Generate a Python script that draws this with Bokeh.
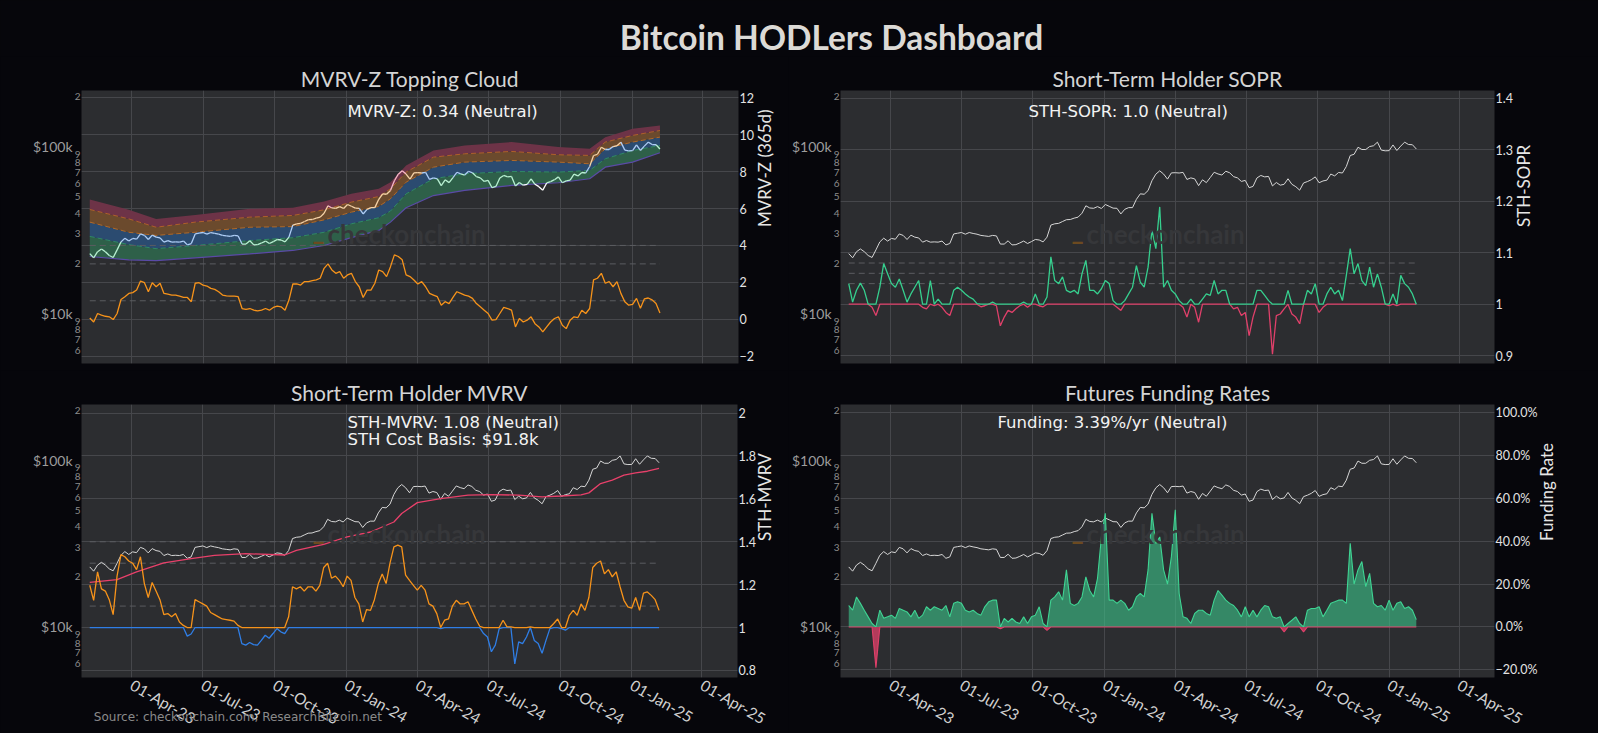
import math
import numpy as np
import pandas as pd
from bokeh.plotting import figure
from bokeh.layouts import column, row
from bokeh.models import (Range1d, LogScale, LogAxis, FixedTicker, CustomJSTickFormatter,
                          DatetimeTickFormatter, Label)
from bokeh.embed import file_html
from bokeh.resources import INLINE

# ---------------------------------------------------------------- data
START_DATE = "2023-02-06"   # series sampled every 5 days
STEP = "5D"

price_k = [22.9, 21.6, 23.5, 24.4, 23.5, 22.3, 21.7, 24.1, 26.9, 28.3, 27.2, 28.2, 27.9, 30.0, 29.4,
           27.8, 29.5, 28.7, 28.4, 26.8, 27.4, 26.8, 26.9, 26.8, 27.2, 25.8, 26.3, 30.0, 30.3, 30.6,
           29.9, 30.6, 30.2, 29.9, 29.4, 29.2, 29.0, 29.4, 29.2, 26.1, 26.1, 27.3, 25.8, 25.9, 26.5,
           27.2, 26.3, 27.0, 27.8, 27.6, 26.9, 28.7, 33.9, 34.5, 34.7, 35.6, 36.5, 36.6, 37.3, 37.8,
           39.9, 44.2, 42.9, 42.7, 43.7, 42.6, 45.0, 43.9, 42.8, 42.7, 39.5, 42.1, 43.1, 43.1, 48.3,
           52.1, 51.8, 54.5, 62.4, 68.3, 71.5, 68.4, 63.8, 69.5, 69.7, 69.4, 70.0, 63.5, 64.9, 64.0,
           58.3, 63.2, 60.8, 65.2, 70.1, 68.5, 67.5, 71.1, 69.6, 66.0, 64.9, 61.8, 62.7, 56.7, 57.7,
           64.8, 67.1, 65.8, 66.2, 58.1, 60.9, 58.7, 59.4, 64.1, 59.4, 57.5, 54.8, 60.5, 61.7, 63.3,
           65.8, 60.7, 62.2, 62.9, 68.4, 66.7, 69.9, 69.4, 75.9, 88.3, 89.8, 98.9, 95.9, 95.9, 99.9,
           101.0, 106.1, 95.1, 94.2, 94.4, 102.1, 94.6, 100.5, 106.1, 102.7, 102.4, 96.6]

mvrv_z = [0.07, -0.15, 0.31, 0.22, 0.16, 0.13, -0.02, 0.31, 1.07, 1.22, 1.40, 1.44, 1.58, 2.07, 1.98,
          1.49, 1.98, 1.76, 1.95, 1.40, 1.36, 1.31, 1.31, 1.25, 1.18, 1.18, 0.95, 1.95, 1.98, 1.85,
          1.80, 1.67, 1.62, 1.49, 1.31, 1.27, 1.25, 1.25, 1.22, 0.58, 0.53, 0.58, 0.49, 0.45, 0.49,
          0.58, 0.49, 0.64, 0.71, 0.67, 0.49, 1.04, 1.91, 1.91, 1.85, 2.04, 2.04, 2.09, 2.13, 2.22,
          2.76, 3.00, 2.67, 2.49, 2.58, 2.22, 2.40, 2.49, 2.04, 1.76, 1.18, 1.58, 1.58, 1.95, 2.67,
          2.58, 2.31, 2.85, 3.49, 3.40, 3.22, 2.40, 2.31, 2.13, 1.91, 2.04, 1.76, 1.40, 1.31, 1.22,
          0.76, 0.95, 0.85, 1.18, 1.49, 1.40, 1.31, 1.25, 1.13, 0.85, 0.67, 0.49, 0.31, -0.05, -0.02,
          0.31, 0.64, 0.58, 0.49, -0.42, 0.04, -0.15, -0.05, 0.13, -0.24, -0.42, -0.69, -0.42, -0.15, 0.04,
          0.13, -0.33, -0.51, -0.05, 0.13, 0.09, 0.49, 0.31, 0.58, 2.13, 2.22, 2.49, 1.95, 2.04, 1.76,
          2.04, 1.40, 0.95, 0.76, 0.80, 1.13, 0.60, 1.10, 1.15, 1.05, 0.85, 0.34]

sth_sopr = [1.040, 1.004, 1.027, 1.041, 1.027, 1.000, 0.994, 0.978, 1.033, 1.079, 1.059, 1.040, 1.033,
            1.049, 1.027, 1.004, 1.020, 1.033, 1.046, 0.994, 0.991, 1.046, 0.997, 1.010, 0.994, 0.984,
            0.978, 1.027, 1.033, 1.027, 1.020, 1.014, 1.010, 1.001, 0.995, 0.997, 1.000, 1.004, 0.997,
            0.958, 0.975, 0.988, 0.984, 0.991, 0.997, 1.004, 0.994, 1.000, 1.020, 0.997, 0.995, 1.014,
            1.092, 1.046, 1.040, 1.053, 1.027, 1.023, 1.027, 1.020, 1.059, 1.085, 1.027, 1.027, 1.020,
            1.030, 1.046, 1.040, 1.007, 0.994, 0.988, 1.007, 1.020, 1.033, 1.075, 1.043, 1.033, 1.072,
            1.144, 1.108, 1.189, 1.033, 1.046, 1.027, 1.020, 1.007, 0.994, 0.975, 1.010, 0.994, 0.965,
            1.010, 1.020, 1.017, 1.046, 1.020, 1.027, 1.027, 1.000, 0.991, 0.994, 0.978, 0.984, 0.939,
            0.975, 1.027, 1.027, 1.017, 1.007, 0.903, 0.978, 0.981, 0.991, 1.027, 0.981, 0.975, 0.962,
            1.000, 1.027, 1.020, 1.040, 0.984, 0.994, 1.020, 1.033, 1.020, 1.027, 1.007, 1.056, 1.108,
            1.059, 1.079, 1.046, 1.036, 1.072, 1.033, 1.059, 1.033, 1.000, 0.997, 1.020, 0.997, 1.056,
            1.040, 1.033, 1.020, 1.000]

sth_mvrv = [1.197, 1.127, 1.26, 1.18, 1.17, 1.13, 1.06, 1.24, 1.34, 1.33, 1.31, 1.30, 1.27, 1.33, 1.205,
            1.14, 1.21, 1.17, 1.13, 1.06, 1.065, 1.05, 1.065, 1.026, 1.01, 0.96, 0.97, 1.13, 1.12, 1.11,
            1.10, 1.07, 1.06, 1.05, 1.04, 1.037, 1.034, 1.03, 1.01, 0.925, 0.918, 0.93, 0.92, 0.918, 0.94,
            0.964, 0.95, 0.972, 0.995, 0.98, 0.972, 1.05, 1.19, 1.18, 1.19, 1.17, 1.19, 1.19, 1.17, 1.197,
            1.28, 1.30, 1.23, 1.24, 1.22, 1.19, 1.24, 1.22, 1.14, 1.11, 1.026, 1.084, 1.08, 1.13, 1.205,
            1.25, 1.205, 1.30, 1.376, 1.384, 1.376, 1.244, 1.22, 1.197, 1.174, 1.197, 1.174, 1.11, 1.10,
            1.065, 0.995, 1.034, 1.04, 1.10, 1.127, 1.11, 1.11, 1.12, 1.08, 1.04, 1.006, 0.972, 0.956,
            0.887, 0.918, 0.995, 1.034, 1.003, 1.003, 0.83, 0.933, 0.925, 0.956, 1.003, 0.94, 0.925, 0.88,
            0.94, 0.995, 1.019, 1.04, 0.995, 0.988, 1.057, 1.08, 1.057, 1.11, 1.08, 1.14, 1.28, 1.30,
            1.31, 1.25, 1.27, 1.236, 1.26, 1.19, 1.127, 1.096, 1.09, 1.14, 1.08, 1.16, 1.166, 1.15, 1.13,
            1.08]

funding = [0.100, 0.078, 0.140, 0.110, 0.078, 0.047, 0.016, -0.190, 0.078, 0.040, 0.047, 0.055, 0.040,
           0.086, 0.078, 0.070, 0.047, 0.078, 0.040, 0.055, 0.094, 0.078, 0.094, 0.086, 0.078, 0.100,
           0.047, 0.110, 0.117, 0.110, 0.078, 0.070, 0.078, 0.063, 0.055, 0.094, 0.117, 0.125, 0.125,
           -0.008, 0.040, 0.023, 0.040, 0.023, 0.016, 0.047, 0.016, 0.047, 0.055, 0.094, 0.016, -0.016,
           0.125, 0.140, 0.164, 0.125, 0.266, 0.110, 0.100, 0.110, 0.140, 0.234, 0.170, 0.140, 0.227,
           0.420, 0.530, 0.125, 0.125, 0.110, 0.125, 0.110, 0.078, 0.094, 0.140, 0.156, 0.140, 0.266,
           0.530, 0.390, 0.420, 0.266, 0.200, 0.328, 0.547, 0.156, 0.047, 0.040, 0.016, 0.063, 0.078,
           0.078, 0.063, 0.055, 0.125, 0.170, 0.148, 0.125, 0.110, 0.100, 0.078, 0.047, 0.094, 0.047,
           0.078, 0.047, 0.078, 0.100, 0.094, 0.047, 0.040, 0.047, -0.023, 0.016, 0.031, 0.047, 0.016,
           -0.023, 0.078, 0.086, 0.086, 0.094, 0.047, 0.078, 0.110, 0.117, 0.125, 0.125, 0.110, 0.390,
           0.200, 0.266, 0.305, 0.188, 0.250, 0.110, 0.094, 0.100, 0.078, 0.125, 0.078, 0.110, 0.117,
           0.086, 0.094, 0.078, 0.034]

cb_dates = ["2023-02-06", "2023-03-13", "2023-04-07", "2023-05-12", "2023-06-16", "2023-07-16",
            "2023-08-25", "2023-10-14", "2023-10-29", "2023-12-03", "2024-01-02", "2024-02-01",
            "2024-03-02", "2024-03-12", "2024-04-01", "2024-05-01", "2024-06-05", "2024-07-05",
            "2024-08-09", "2024-09-08", "2024-10-03", "2024-10-28", "2024-11-07", "2024-11-22",
            "2024-12-07", "2024-12-22", "2025-01-06", "2025-01-21", "2025-02-05"]
sth_cost_basis_k = [18.5, 19.2, 21.4, 24.2, 25.7, 26.9, 27.5, 27.0, 28.8, 31.3, 34.7, 37.1, 42.6, 47.9,
                    55.7, 58.9, 61.7, 62.2, 61.7, 60.3, 61.0, 62.0, 63.7, 72.5, 75.9, 81.3, 83.9, 85.9,
                    89.5]

band_dates = ["2023-02-06", "2023-03-28", "2023-05-02", "2023-06-21", "2023-08-30", "2023-10-24",
              "2023-12-03", "2024-01-07", "2024-02-11", "2024-02-26", "2024-03-17", "2024-04-21",
              "2024-05-31", "2024-07-30", "2024-09-28", "2024-11-07", "2024-11-27", "2025-01-01",
              "2025-02-05"]
cloud_l0_k = [22.0, 21.0, 20.8, 21.6, 22.8, 23.9, 25.6, 28.5, 31.5, 35.3, 43.0, 50.9, 54.6, 58.5, 60.7,
              64.1, 75.2, 80.6, 91.7]
cloud_l1_k = [29.0, 25.9, 24.5, 25.6, 27.4, 28.5, 30.7, 34.5, 37.5, 41.1, 52.1, 64.1, 68.7, 70.9, 70.3,
              71.9, 84.4, 94.6, 101.4]
cloud_l2_k = [35.3, 30.7, 29.4, 30.7, 32.9, 33.2, 36.4, 40.5, 43.8, 48.7, 61.2, 75.2, 80.6, 82.5, 80.6,
              78.8, 96.9, 106.2, 113.7]
cloud_l3_k = [42.0, 36.9, 32.9, 35.3, 37.8, 38.7, 41.8, 46.5, 50.2, 55.8, 70.3, 86.3, 90.4, 93.4, 89.2,
              88.4, 106.2, 116.4, 124.6]
cloud_l4_k = [48.2, 41.8, 36.9, 39.0, 42.4, 43.0, 46.9, 52.1, 55.8, 61.2, 77.0, 94.6, 101.4, 106.2, 99.1,
              96.9, 113.7, 127.5, 133.5]

mvrvz_levels = [1, 3, 4]
sopr_levels = [1.04, 1.06, 1.08]
mvrv_levels = [1.1, 1.3, 1.4]

x_tick_dates = ["2023-04-01", "2023-07-01", "2023-10-01", "2024-01-01", "2024-04-01",
                "2024-07-01", "2024-10-01", "2025-01-01", "2025-04-01"]
price_ticks = [6000, 7000, 8000, 9000, 20000, 30000, 40000, 50000, 60000, 70000, 80000, 90000, 200000]
price_big_ticks = [10000, 100000]

titles = ["MVRV-Z Topping Cloud", "Short-Term Holder SOPR", "Short-Term Holder MVRV",
          "Futures Funding Rates"]
y_titles = ["MVRV-Z (365d)", "STH-SOPR", "STH-MVRV", "Funding Rate"]
SOURCE = "Source: checkonchain.com, ResearchBitcoin.net"

# ---------------------------------------------------------------- styling
PAGE_BG = "#06060b"
PLOT_BG = "#2c2d30"
GRID = "#46474b"
FONT = "Lato"
FW, FH = 659, 273
X_START = pd.Timestamp("2023-01-26 10:00")
X_END = pd.Timestamp("2025-05-16 14:00")
XLAB_STANDOFF = -28

dates = pd.date_range(START_DATE, periods=len(price_k), freq=STEP)
price = np.array(price_k) * 1000.0
x_ticks = [pd.Timestamp(d).value // 10**6 for d in x_tick_dates]


def slabel(p, text, x, y_top, size, color, font="DejaVu Sans", align="left", baseline="middle",
           style="normal", angle=0.0):
    p.add_layout(Label(x=x, y=FH - y_top, x_units="screen", y_units="screen", text=text,
                       text_font=font, text_font_size=size, text_color=color, text_align=align,
                       text_baseline=baseline, text_font_style=style, angle=angle))


def no_ticks(a):
    a.axis_line_color = None
    a.major_tick_line_color = None
    a.minor_tick_line_color = None
    a.major_tick_out = 0
    a.major_tick_in = 0
    a.minor_tick_out = 0
    a.minor_tick_in = 0


def make_fig(width, height, left, right, top, bottom, y_rng, price_rng, y_ticks, y_fmt,
             bottom_axis, title, ytitle, ytitle_standoff, xlabel=""):
    p = figure(width=width, height=height, x_axis_type="datetime", y_axis_location="right",
               x_range=Range1d(X_START, X_END), y_range=Range1d(*y_rng),
               toolbar_location=None, output_backend="svg",
               background_fill_color=PLOT_BG, border_fill_color=PAGE_BG, outline_line_color=None,
               min_border_left=left, min_border_right=right, min_border_top=top,
               min_border_bottom=bottom)
    p.extra_y_ranges = {"price": Range1d(*price_rng)}
    p.extra_y_scales = {"price": LogScale()}

    p.title.text = title
    p.title.align = "center"
    p.title.text_font = FONT
    p.title.text_font_style = "normal"
    p.title.text_font_size = "21px"
    p.title.text_color = "#d4d4d4"
    p.title.standoff = 0

    yt = FixedTicker(ticks=y_ticks)
    ax = p.yaxis[0]
    ax.ticker = yt
    ax.formatter = CustomJSTickFormatter(code=y_fmt)
    no_ticks(ax)
    ax.major_label_standoff = 1
    ax.major_label_text_font = FONT
    ax.major_label_text_font_size = "12.5px"
    ax.major_label_text_color = "#e2e2e2"
    ax.axis_label = ytitle
    ax.axis_label_text_font = FONT
    ax.axis_label_text_font_style = "normal"
    ax.axis_label_text_font_size = "17px"
    ax.axis_label_text_color = "#e6e6e6"
    ax.axis_label_standoff = ytitle_standoff
    try:
        ax.axis_label_orientation = math.pi / 2
    except Exception:
        pass
    p.ygrid.ticker = yt
    p.ygrid.grid_line_color = GRID

    xt = FixedTicker(ticks=x_ticks)
    xa = p.xaxis[0]
    xa.ticker = xt
    p.xgrid.ticker = xt
    p.xgrid.grid_line_color = GRID
    if bottom_axis:
        fmt = "%d-%b-%y"
        xa.formatter = DatetimeTickFormatter(days=fmt, months=fmt, years=fmt, hours=fmt,
                                             hourmin=fmt, minutes=fmt)
        xa.major_label_orientation = -math.pi / 6
        no_ticks(xa)
        xa.major_label_standoff = 6
        xa.major_label_text_font = FONT
        xa.major_label_text_font_size = "15.5px"
        xa.major_label_text_color = "#d0d0d0"
        xa.axis_label = xlabel
        xa.axis_label_text_font = "DejaVu Sans"
        xa.axis_label_text_font_style = "normal"
        xa.axis_label_text_font_size = "12px"
        xa.axis_label_text_color = "#8a8a8a"
        xa.axis_label_standoff = XLAB_STANDOFF
    else:
        xa.visible = False

    # price axis: small digits close to the frame, $10k / $100k just outside them
    la = LogAxis(y_range_name="price", ticker=FixedTicker(ticks=price_ticks),
                 formatter=CustomJSTickFormatter(code="return String(tick)[0];"))
    lb = LogAxis(y_range_name="price", ticker=FixedTicker(ticks=price_big_ticks),
                 formatter=CustomJSTickFormatter(code="return tick > 50000 ? '$100k' : '$10k';"))
    for a, size, col, so in ((la, "10px", "#8c8c8c", 1), (lb, "14px", "#9c9c9c", -1)):
        no_ticks(a)
        a.major_label_standoff = so
        a.major_label_text_font = FONT
        a.major_label_text_font_size = size
        a.major_label_text_color = col
        p.add_layout(a, "left")
    return p


def watermark(p, y_top):
    slabel(p, "_", 231, y_top - 4, "26px", "#6c4a20", font=FONT, style="bold")
    slabel(p, "checkonchain", 246, y_top, "26px", "#36373a", font=FONT, style="bold")


def levels(p, lv):
    for v in lv:
        p.line([dates[0], dates[-1]], [v, v], line_color="#5b5c60", line_dash="6 4", line_width=1)


fmt_num = "return String(parseFloat(tick.toFixed(2)));"
fmt_z = "return tick < 0 ? '\u2212' + Math.abs(tick) : String(tick);"
fmt_pct = ("var s = (Math.abs(tick) * 100).toFixed(1) + '%'; "
           "return tick < -1e-9 ? '\u2212' + s : s;")

TITLE_H, TOP_H, BOT_H = 56, 314, 363
LW, RW = 788, 810
NBSP = "\u00a0"

# ---------------------------------------------------------------- top-left: MVRV-Z cloud
p1 = make_fig(LW, TOP_H, 81, 48, 34, 7, (-2.401, 12.401), (5045, 216000),
              [-2, 0, 2, 4, 6, 8, 10, 12], fmt_z, False, titles[0], y_titles[0], 8)
bd = pd.to_datetime(band_dates)
L = [np.array(b) * 1000 for b in (cloud_l0_k, cloud_l1_k, cloud_l2_k, cloud_l3_k, cloud_l4_k)]
band_cols = ["#2e6049", "#2b4b70", "#6b4a2d", "#6d3347"]
for i in range(4):
    p1.varea(x=bd, y1=L[i], y2=L[i + 1], fill_color=band_cols[i], y_range_name="price")
p1.line(bd, L[0], line_color="#5a4aa6", line_width=1.2, y_range_name="price")
p1.line(bd, L[1], line_color="#2f8a66", line_width=1, line_dash="5 3", y_range_name="price")
p1.line(bd, L[2], line_color="#b06a2a", line_width=1, line_dash="5 3", y_range_name="price")
p1.line(bd, L[3], line_color="#b0602a", line_width=1, line_dash="5 3", y_range_name="price")
levels(p1, mvrvz_levels)

dn = dates.values.astype("datetime64[D]").astype(float)
bn = bd.values.astype("datetime64[D]").astype(float)
bounds = [np.exp(np.interp(dn, bn, np.log(b))) for b in L]
mid_p = np.sqrt(price[:-1] * price[1:])
mid_b = [np.sqrt(b[:-1] * b[1:]) for b in bounds]
zone = sum((mid_p > b).astype(int) for b in mid_b)
zone_cols = ["#ffffff", "#b8f0d2", "#aecdf5", "#f6d3a8", "#f7b8c9", "#f7b8c9"]
p1.segment(x0=dates[:-1], y0=price[:-1], x1=dates[1:], y1=price[1:],
           line_color=[zone_cols[z] for z in zone], line_width=1.3, y_range_name="price")
p1.line(dates, mvrv_z, line_color="#f7931a", line_width=1.3)

# ---------------------------------------------------------------- top-right: STH-SOPR
p2 = make_fig(RW, TOP_H, 47, 104, 34, 7, (0.8848, 1.4152), (5045, 216000),
              [0.9, 1.0, 1.1, 1.2, 1.3, 1.4], fmt_num, False, titles[1], y_titles[1], 8)
levels(p2, sopr_levels)
p2.line(dates, price, line_color="#d6d6d6", line_width=1, y_range_name="price")
sopr = np.array(sth_sopr)
p2.line(dates, np.minimum(sopr, 1.0), line_color="#e0406a", line_width=1.3)
p2.line(dates, np.maximum(sopr, 1.0), line_color="#36cf8e", line_width=1.3)

# ---------------------------------------------------------------- bottom-left: STH-MVRV
# the source note is the (shifted) x-axis label of this panel
p3 = make_fig(LW, BOT_H, 81, 48, 34, 56, (0.767, 2.040), (4970, 216000),
              [0.8, 1.0, 1.2, 1.4, 1.6, 1.8, 2.0], fmt_num, True, titles[2], y_titles[2], 6,
              xlabel=SOURCE + NBSP * 90)
levels(p3, mvrv_levels)
p3.line(dates, price, line_color="#d6d6d6", line_width=1, y_range_name="price")
p3.line(pd.to_datetime(cb_dates), np.array(sth_cost_basis_k) * 1000, line_color="#e8406a",
        line_width=1.3, y_range_name="price")
mv = np.array(sth_mvrv)
p3.line(dates, np.minimum(mv, 1.0), line_color="#2f7ee6", line_width=1.3)
p3.line(dates, np.maximum(mv, 1.0), line_color="#f7931a", line_width=1.3)

# ---------------------------------------------------------------- bottom-right: funding
p4 = make_fig(RW, BOT_H, 47, 104, 34, 56, (-0.236, 1.038), (4970, 216000),
              [-0.2, 0.0, 0.2, 0.4, 0.6, 0.8, 1.0], fmt_pct, True, titles[3], y_titles[3], 6,
              xlabel=NBSP)
p4.line(dates, price, line_color="#d6d6d6", line_width=1, y_range_name="price")
fr = np.array(funding)
pos = np.maximum(fr, 0.0)
neg = np.minimum(fr, 0.0)
p4.varea(x=dates, y1=0.0, y2=pos, fill_color="#3cc48a", fill_alpha=0.6)
p4.line(dates, pos, line_color="#3fd493", line_width=1.1)
p4.varea(x=dates, y1=neg, y2=0.0, fill_color="#e0406a", fill_alpha=0.75)
p4.line(dates, neg, line_color="#e0406a", line_width=1.1)

# ---------------------------------------------------------------- in-frame texts
slabel(p1, "MVRV-Z: 0.34 (Neutral)", 266, 21, "16.5px", "#f2f2f2")
slabel(p2, "STH-SOPR: 1.0 (Neutral)", 188, 21, "16.5px", "#f2f2f2")
slabel(p3, "STH-MVRV: 1.08 (Neutral)", 266, 17.5, "16.5px", "#f2f2f2")
slabel(p3, "STH Cost Basis: $91.8k", 266, 35.2, "16.5px", "#f2f2f2")
slabel(p4, "Funding: 3.39%/yr (Neutral)", 157, 17.5, "16.5px", "#f2f2f2")

watermark(p1, 143)
watermark(p2, 143)
watermark(p3, 129)
watermark(p4, 129)

# ---------------------------------------------------------------- main title
tfig = figure(width=LW + RW, height=TITLE_H, toolbar_location=None, output_backend="svg",
              x_range=Range1d(0, 1), y_range=Range1d(0, 1), background_fill_color=PAGE_BG,
              border_fill_color=PAGE_BG, outline_line_color=None, min_border=0)
tfig.axis.visible = False
tfig.grid.visible = False
tfig.add_layout(Label(x=831, y=TITLE_H - 36, x_units="screen", y_units="screen",
                      text="Bitcoin HODLers Dashboard", text_align="center", text_baseline="middle",
                      text_font=FONT, text_font_style="bold", text_font_size="33.5px",
                      text_color="#dcdad6"))

layout = column(tfig, row(p1, p2), row(p3, p4))

html = file_html(layout, INLINE, title="Bitcoin HODLers Dashboard")
html = html.replace("</head>", "<style>html,body{background:#06060b;overflow:hidden;}</style></head>", 1)
open("out.html", "w").write(html)
